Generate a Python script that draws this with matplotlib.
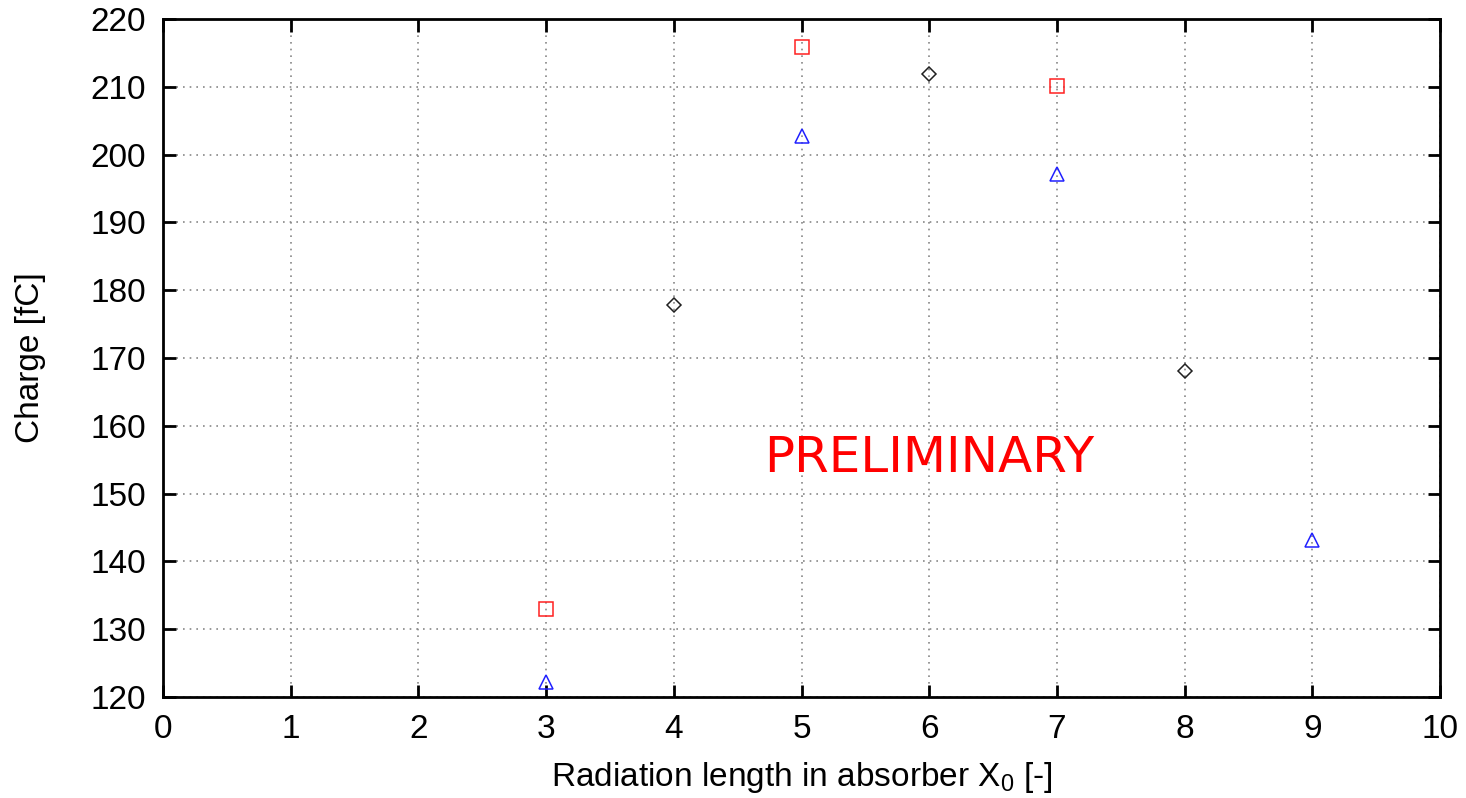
import matplotlib
matplotlib.use('Agg')
import matplotlib.pyplot as plt

plt.rcParams['font.family'] = ['Liberation Sans', 'DejaVu Sans']
plt.rcParams['mathtext.fontset'] = 'custom'
plt.rcParams['mathtext.rm'] = 'Liberation Sans'

# data
x_red = [3, 5, 7]
q_red = [133.0, 215.8, 210.1]

x_blue = [3, 5, 7, 9]
q_blue = [122.2, 202.7, 197.1, 143.1]

x_black = [4, 6, 8]
q_black = [177.8, 211.9, 168.1]

xticks = list(range(0, 11))
yticks = list(range(120, 221, 10))

fig = plt.figure(figsize=(14.66, 7.98), dpi=100)
ax = fig.add_axes([163 / 1466, 101 / 798, 1277 / 1466, 678 / 798])

mk = dict(linestyle='none', markerfacecolor='none', markeredgewidth=1.1, zorder=3)
ax.plot(x_red, q_red, marker='s', markersize=9.5, markeredgecolor='#ff2020', **mk)
ax.plot(x_blue, q_blue, marker='^', markersize=10, markeredgecolor='#2020ff', **mk)
ax.plot(x_black, q_black, marker='D', markersize=7.5, markeredgecolor='#202020', **mk)

ax.text(6, 155.3, 'PRELIMINARY', color='red', fontsize=36,
        family='DejaVu Sans', ha='center', va='center')

ax.set_xlim(0, 10)
ax.set_ylim(120, 220)
ax.set_xticks(xticks)
ax.set_yticks(yticks)
ax.tick_params(direction='in', length=9, width=2, labelsize=24,
               top=True, right=True, pad=12)
for sp in ax.spines.values():
    sp.set_linewidth(2)

ax.grid(True, color='#888888', linestyle=(0, (1, 3)), linewidth=1.2)

ax.set_xlabel('Radiation length in absorber X$_0$ [-]', fontsize=24, labelpad=11)
ax.set_ylabel('Charge [fC]', fontsize=24, labelpad=32)

plt.savefig('out.png', dpi=100)
plt.close()
